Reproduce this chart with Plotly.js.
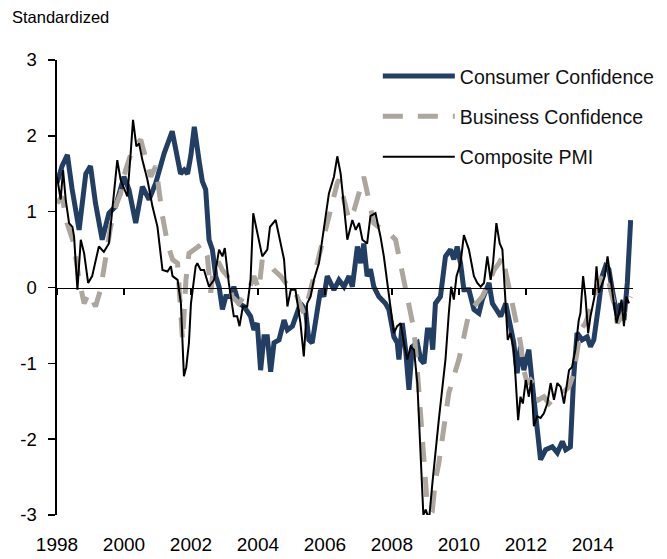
<!DOCTYPE html>
<html>
<head>
<meta charset="utf-8">
<script src="https://cdn.plot.ly/plotly-3.0.1.min.js"></script>
<style>html,body{margin:0;padding:0;background:#fff;}#chart{width:667px;height:559px;}</style>
</head>
<body>
<div id="chart"></div>
<script>
// ---- Data (decimal years) ----
const ccYears = [1998.00,1998.15,1998.31,1998.45,1998.66,1998.86,1999.00,1999.15,1999.35,1999.55,1999.75,2000.00,2000.15,2000.35,2000.55,2000.75,2000.95,2001.20,2001.44,2001.59,2001.69,2001.80,2001.90,2002.00,2002.10,2002.24,2002.34,2002.44,2002.54,2002.64,2002.74,2002.84,2002.94,2003.04,2003.18,2003.28,2003.43,2003.58,2003.78,2003.88,2003.98,2004.08,2004.18,2004.28,2004.38,2004.48,2004.63,2004.78,2004.88,2005.03,2005.17,2005.27,2005.42,2005.52,2005.62,2005.72,2005.87,2005.97,2006.07,2006.17,2006.27,2006.42,2006.57,2006.72,2006.82,2006.97,2007.07,2007.16,2007.26,2007.36,2007.46,2007.61,2007.81,2007.91,2008.06,2008.16,2008.21,2008.31,2008.41,2008.51,2008.61,2008.76,2008.86,2008.96,2009.06,2009.16,2009.22,2009.30,2009.45,2009.60,2009.75,2009.85,2009.95,2010.05,2010.15,2010.30,2010.45,2010.60,2010.70,2010.90,2011.00,2011.25,2011.40,2011.54,2011.64,2011.74,2011.84,2011.94,2012.09,2012.19,2012.29,2012.44,2012.59,2012.79,2012.94,2013.09,2013.19,2013.33,2013.43,2013.53,2013.68,2013.83,2013.93,2014.03,2014.18,2014.28,2014.38,2014.48,2014.58,2014.73,2014.83,2014.93,2015.03,2015.13];
const ccValues = [1.38,1.60,1.75,1.30,0.76,1.50,1.60,1.11,0.63,0.98,1.07,1.46,1.29,0.85,1.33,1.16,1.38,1.77,2.06,1.70,1.50,1.55,1.50,1.75,2.12,1.68,1.40,1.29,0.63,0.50,0.15,0.01,-0.29,-0.12,-0.12,0.01,-0.21,-0.25,-0.38,-0.56,-0.47,-1.09,-0.65,-0.65,-1.11,-0.73,-0.69,-0.43,-0.56,-0.51,-0.34,-0.21,-0.29,-0.69,-0.73,-0.47,-0.03,-0.12,0.15,0.06,-0.03,0.10,0.01,0.15,0.01,0.54,0.32,0.58,0.15,0.24,0.01,-0.12,-0.21,-0.29,-0.65,-0.73,-0.95,-0.47,-0.82,-1.35,-0.78,-0.73,-0.95,-1.00,-0.56,-0.56,-0.82,-0.21,-0.12,0.41,0.50,0.37,0.54,0.32,-0.03,-0.03,-0.29,-0.34,-0.16,0.06,-0.21,-0.38,-0.21,-0.51,-0.73,-1.13,-0.78,-1.09,-0.82,-1.26,-1.66,-2.27,-2.14,-2.10,-2.18,-2.03,-2.14,-2.10,-1.17,-0.60,-0.69,-0.65,-0.78,-0.69,-0.21,0.15,0.28,0.24,-0.03,-0.38,-0.21,-0.43,0.06,0.89];

const bcYears = [1998.00,1998.15,1998.30,1998.50,1998.66,1998.81,1998.95,1999.15,1999.30,1999.45,1999.60,1999.75,1999.90,2000.05,2000.25,2000.50,2000.65,2000.80,2000.95,2001.15,2001.30,2001.45,2001.60,2001.75,2001.85,2001.94,2002.10,2002.34,2002.49,2002.59,2002.69,2002.84,2002.94,2003.09,2003.23,2003.43,2003.58,2003.73,2003.88,2004.03,2004.13,2004.33,2004.48,2004.68,2004.83,2004.97,2005.12,2005.37,2005.47,2005.67,2005.77,2005.92,2006.07,2006.22,2006.37,2006.42,2006.57,2006.72,2006.87,2007.02,2007.16,2007.31,2007.46,2007.71,2007.91,2008.11,2008.26,2008.36,2008.51,2008.66,2008.76,2008.86,2008.96,2009.06,2009.21,2009.30,2009.40,2009.55,2009.70,2009.85,2010.00,2010.15,2010.30,2010.45,2010.70,2010.90,2011.05,2011.20,2011.30,2011.45,2011.60,2011.74,2011.84,2011.94,2012.04,2012.14,2012.29,2012.39,2012.54,2012.69,2012.89,2013.09,2013.29,2013.43,2013.53,2013.63,2013.78,2013.93,2014.08,2014.23,2014.38,2014.48,2014.63,2014.73,2014.88,2015.03,2015.13];
const bcValues = [1.11,1.20,0.85,0.58,0.10,-0.21,-0.07,-0.25,-0.03,0.37,0.80,1.07,1.24,1.55,1.82,1.95,1.68,1.46,1.60,0.94,0.58,0.37,0.32,-0.70,0.10,0.45,0.50,0.58,0.41,-0.07,0.32,0.32,0.23,0.15,-0.12,-0.21,-0.12,-0.03,0.15,-0.03,0.37,0.32,0.23,0.15,0.06,-0.03,-0.07,-0.34,-0.21,0.15,0.32,0.58,0.85,1.11,1.38,1.42,1.16,0.89,1.02,1.24,1.46,1.16,0.85,0.76,0.72,0.63,0.32,0.06,-0.21,-0.56,-1.09,-1.70,-2.32,-2.89,-2.93,-2.54,-2.32,-1.83,-1.39,-1.17,-0.95,-0.65,-0.34,-0.25,-0.12,0.06,0.23,0.32,0.41,0.10,-0.21,-0.56,-0.73,-1.09,-1.26,-1.22,-1.31,-1.48,-1.44,-1.53,-1.44,-1.39,-1.31,-1.13,-0.82,-0.56,-0.47,-0.29,-0.07,0.10,0.19,0.06,-0.21,-0.47,-0.38,-0.21,-0.12];

const pmiYears = [1998.00,1998.11,1998.18,1998.26,1998.36,1998.46,1998.51,1998.61,1998.71,1998.81,1998.93,1999.05,1999.25,1999.40,1999.55,1999.70,1999.80,1999.90,2000.10,2000.20,2000.27,2000.37,2000.45,2000.55,2000.70,2000.85,2001.00,2001.15,2001.30,2001.40,2001.45,2001.60,2001.70,2001.79,2001.86,2001.94,2002.00,2002.14,2002.19,2002.29,2002.39,2002.54,2002.69,2002.84,2002.94,2003.01,2003.13,2003.28,2003.38,2003.45,2003.55,2003.68,2003.78,2003.86,2003.98,2004.13,2004.28,2004.36,2004.53,2004.63,2004.78,2004.88,2004.98,2005.12,2005.27,2005.37,2005.47,2005.57,2005.67,2005.82,2005.97,2006.12,2006.27,2006.37,2006.47,2006.57,2006.67,2006.82,2006.92,2007.02,2007.12,2007.26,2007.36,2007.51,2007.66,2007.76,2007.86,2007.96,2008.06,2008.16,2008.26,2008.36,2008.46,2008.56,2008.66,2008.76,2008.86,2008.94,2009.01,2009.11,2009.21,2009.30,2009.40,2009.50,2009.60,2009.70,2009.77,2009.85,2009.93,2010.05,2010.15,2010.30,2010.45,2010.55,2010.65,2010.75,2010.85,2010.95,2011.02,2011.12,2011.22,2011.30,2011.40,2011.46,2011.54,2011.64,2011.69,2011.77,2011.84,2011.91,2012.00,2012.09,2012.16,2012.24,2012.34,2012.44,2012.54,2012.64,2012.74,2012.84,2012.94,2013.04,2013.14,2013.24,2013.29,2013.38,2013.48,2013.58,2013.63,2013.71,2013.78,2013.86,2013.93,2014.05,2014.11,2014.18,2014.28,2014.36,2014.44,2014.53,2014.63,2014.71,2014.78,2014.86,2014.93,2015.00,2015.08];
const pmiValues = [1.46,1.16,1.55,1.16,0.85,0.80,0.67,-0.03,0.63,0.45,0.06,0.15,0.54,0.47,0.58,1.20,1.68,1.42,1.20,1.77,2.21,1.86,1.90,1.68,1.42,1.07,0.80,0.23,0.21,0.28,0.15,0.10,-0.21,-1.17,-1.05,-0.73,-0.21,0.28,0.32,0.23,0.23,0.01,0.10,0.50,0.41,0.52,0.06,-0.38,-0.38,-0.51,-0.25,-0.25,0.10,0.98,0.72,0.41,0.50,0.80,0.89,0.67,0.37,-0.25,-0.03,-0.03,-0.47,-0.91,-0.21,-0.12,0.10,0.32,0.80,1.24,1.46,1.73,1.50,1.07,0.63,0.89,0.76,0.85,0.63,0.58,0.94,0.98,0.67,0.41,0.06,-0.29,-0.60,-0.51,-0.47,-0.73,-0.95,-0.78,-0.82,-1.26,-2.36,-3.00,-2.93,-3.06,-2.58,-2.14,-1.75,-1.35,-0.95,-0.34,0.01,-0.16,0.15,0.32,0.69,0.50,0.15,0.06,0.01,0.06,0.41,0.10,0.32,0.85,0.58,0.50,-0.16,-0.69,-0.60,-0.82,-1.17,-1.75,-1.44,-1.53,-1.22,-1.44,-1.22,-1.83,-1.70,-1.72,-1.66,-1.53,-1.26,-1.48,-1.26,-1.31,-1.53,-1.26,-1.09,-1.05,-0.82,-0.43,-0.34,0.15,-0.12,-0.60,-0.38,-0.12,0.28,-0.07,0.06,0.15,0.41,0.10,-0.21,-0.47,-0.34,-0.16,-0.51,-0.12,-0.21];

const seriesNames = ['Consumer Confidence','Business Confidence','Composite PMI'];
const xTickVals = [1998,2000,2002,2004,2006,2008,2010,2012,2014];
const xTickText = ['1998','2000','2002','2004','2006','2008','2010','2012','2014'];
const yTickVals = [-3,-2,-1,0,1,2,3];
const yTickText = ['-3','-2','-1','0','1','2','3'];

const FONT = '"Liberation Sans", Arial, sans-serif';

const traces = [
  {x: ccYears, y: ccValues, name: seriesNames[0], type: 'scatter', mode: 'lines',
   line: {color: '#223F63', width: 5}, legendgroup: 'a', xaxis: 'x', yaxis: 'y'},
  {x: bcYears, y: bcValues, name: seriesNames[1], type: 'scatter', mode: 'lines',
   line: {color: '#ADA69F', width: 5, dash: '20px,15px'}, legendgroup: 'b', xaxis: 'x', yaxis: 'y'},
  {x: pmiYears, y: pmiValues, name: seriesNames[2], type: 'scatter', mode: 'lines',
   line: {color: '#000000', width: 2}, legendgroup: 'c', xaxis: 'x2', yaxis: 'y'}
];

const layout = {
  width: 667, height: 559,
  margin: {l: 57, r: 34, t: 60, b: 44, autoexpand: false},
  paper_bgcolor: '#ffffff', plot_bgcolor: '#ffffff',
  font: {family: FONT, size: 18, color: '#000'},
  title: {text: 'Standardized', x: 12/667, xanchor: 'left', xref: 'container',
          y: 1 - 17/559, yanchor: 'middle', yref: 'container',
          font: {family: FONT, size: 16.5, color: '#000'}},
  showlegend: true,
  legend: {x: 0.557, xanchor: 'left', y: 1.007, yanchor: 'top', bgcolor: 'rgba(0,0,0,0)',
           font: {family: FONT, size: 19.5, color: '#111'}, itemwidth: 72,
           traceorder: 'grouped', tracegroupgap: 12},
  xaxis: {range: [1998, 2015.2], tickvals: xTickVals, ticktext: xTickText,
          showline: false, showgrid: false, zeroline: false, ticks: '',
          ticklabelstandoff: 16, tickfont: {family: FONT, size: 19, color: '#000'}},
  xaxis2: {matches: 'x', overlaying: 'x', anchor: 'free', position: 0.5,
           showline: true, linecolor: '#000', linewidth: 1.6, showgrid: false, zeroline: false,
           ticks: 'outside', ticklen: 6, tickwidth: 1.5, tickcolor: '#000',
           tickvals: xTickVals, showticklabels: false},
  yaxis: {range: [-3, 3], tickvals: yTickVals, ticktext: yTickText,
          showline: true, linecolor: '#000', linewidth: 1.6, showgrid: false, zeroline: false,
          ticks: 'outside', ticklen: 7, tickwidth: 1.5, tickcolor: '#000',
          ticklabelstandoff: 8, tickfont: {family: FONT, size: 18.5, color: '#000'}}
};

Plotly.newPlot('chart', traces, layout, {staticPlot: true, displayModeBar: false});
</script>
</body>
</html>
